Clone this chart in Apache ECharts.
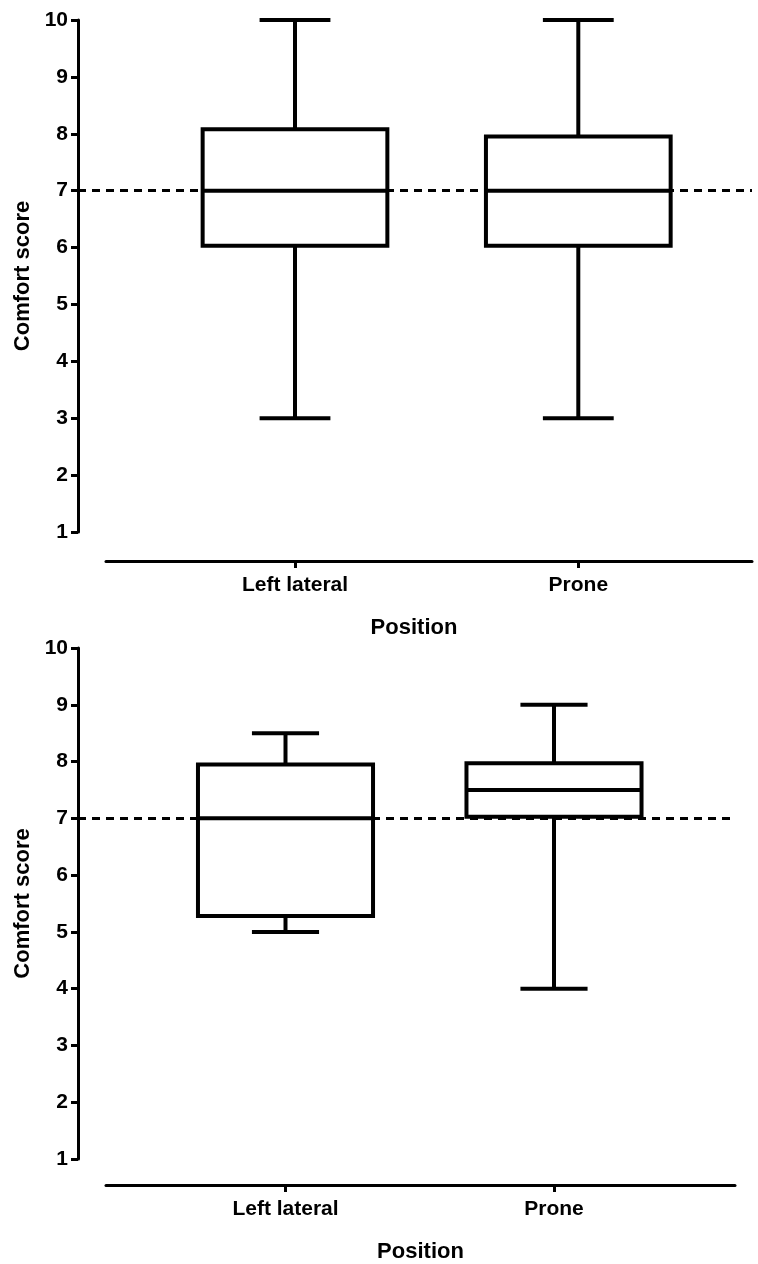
<!DOCTYPE html>
<html>
<head>
<meta charset="utf-8">
<title>Comfort score by position</title>
<script src="https://cdn.jsdelivr.net/npm/echarts@6/dist/echarts.min.js"></script>
<style>
	html, body { margin: 0; padding: 0; background: #fff; }
	#chart { width: 758px; height: 1264px; }
</style>
</head>
<body>
<div id="chart"></div>
<script>
	// categories (x = 1, 2 on the numeric base axis)
	var positions = ['Left lateral', 'Prone'];
	var posIndex = [1, 2];

	// top panel box values
	var topMin = [3, 3];
	var topQ1 = [6.03, 6.03];
	var topMedian = [7, 7];
	var topQ3 = [8.08, 7.95];
	var topMax = [10, 10];

	// bottom panel box values
	var botMin = [5, 4];
	var botQ1 = [5.28, 7.03];
	var botMedian = [7, 7.5];
	var botQ3 = [7.95, 7.97];
	var botMax = [8.5, 9];

	var refScore = 7; // dashed line

	var font = 'Liberation Sans, Arial, sans-serif';

	function boxRows(mins, q1s, meds, q3s, maxs) {
		return posIndex.map(function (x, i) {
			return [x, mins[i], q1s[i], meds[i], q3s[i], maxs[i]];
		});
	}

	function renderBox(params, api) {
		var x = api.value(0);
		var pMin = api.coord([x, api.value(1)]);
		var pQ1 = api.coord([x, api.value(2)]);
		var pMed = api.coord([x, api.value(3)]);
		var pQ3 = api.coord([x, api.value(4)]);
		var pMax = api.coord([x, api.value(5)]);
		var unit = api.size([1, 0])[0];
		var half = unit * 0.326; // box half width
		var cap = unit * 0.125;  // whisker cap half width
		var st = { stroke: '#000', lineWidth: 4, fill: 'none' };
		var cx = pMed[0];
		return {
			type: 'group',
			children: [
				{ type: 'line', shape: { x1: cx, y1: pMin[1], x2: cx, y2: pQ1[1] }, style: st },
				{ type: 'line', shape: { x1: cx, y1: pQ3[1], x2: cx, y2: pMax[1] }, style: st },
				{ type: 'line', shape: { x1: cx - cap, y1: pMin[1], x2: cx + cap, y2: pMin[1] }, style: st },
				{ type: 'line', shape: { x1: cx - cap, y1: pMax[1], x2: cx + cap, y2: pMax[1] }, style: st },
				{ type: 'rect', shape: { x: cx - half, y: pQ3[1], width: half * 2, height: pQ1[1] - pQ3[1] }, style: st },
				{ type: 'line', shape: { x1: cx - half, y1: pMed[1], x2: cx + half, y2: pMed[1] }, style: st }
			]
		};
	}

	// pixel layout for each panel: y axis at axisX, x axis line from lineLeft to lineRight
	function panel(idx, cfg) {
		var unit = (cfg.c2 - cfg.c1);
		var plotMin = 1 - (cfg.c1 - cfg.axisX) / unit;
		var lineMin = 1 - (cfg.c1 - cfg.lineLeft) / unit;
		var xMax = 2 + (cfg.lineRight - cfg.c2) / unit;
		var g = idx * 2;
		return {
			grids: [
				{ left: cfg.axisX, top: cfg.top, width: cfg.lineRight - cfg.axisX, height: cfg.bottom1 - cfg.top },
				{ left: cfg.lineLeft, top: cfg.top, width: cfg.lineRight - cfg.lineLeft, height: cfg.xLineY - cfg.top }
			],
			xAxes: [
				{ gridIndex: g, type: 'value', min: plotMin, max: xMax, show: false },
				{
					gridIndex: g + 1, type: 'value', min: lineMin, max: xMax,
					axisLine: { show: true, lineStyle: { color: '#000', width: 3 } },
					axisTick: { show: true, customValues: posIndex, length: 7, lineStyle: { color: '#000', width: 3 } },
					axisLabel: {
						customValues: posIndex, margin: 14, color: '#000', fontFamily: font,
						fontWeight: 'bold', fontSize: 21,
						formatter: function (v) { return positions[v - 1]; }
					},
					splitLine: { show: false },
					name: 'Position', nameLocation: 'middle', nameGap: 56,
					nameTextStyle: { color: '#000', fontFamily: font, fontWeight: 'bold', fontSize: 22, padding: [0, cfg.namePad, 0, 0] }
				}
			],
			yAxes: [
				{
					gridIndex: g, type: 'value', min: 1, max: 10, interval: 1,
					axisLine: { show: true, lineStyle: { color: '#000', width: 3 } },
					axisTick: { show: true, length: 7, lineStyle: { color: '#000', width: 3 } },
					axisLabel: { margin: 10, color: '#000', fontFamily: font, fontWeight: 'bold', fontSize: 21 },
					splitLine: { show: false },
					name: 'Comfort score', nameLocation: 'middle', nameGap: 42, nameRotate: 90,
					nameTextStyle: { color: '#000', fontFamily: font, fontWeight: 'bold', fontSize: 22 }
				},
				{ gridIndex: g + 1, type: 'value', show: false, min: 0, max: 1 }
			],
			series: {
				type: 'custom',
				xAxisIndex: g,
				yAxisIndex: g,
				renderItem: renderBox,
				data: cfg.rows,
				z: 3,
				markLine: {
					silent: true,
					symbol: ['none', 'none'],
					label: { show: false },
					lineStyle: { color: '#000', width: 3, type: [8, 6] },
					data: [{ yAxis: refScore }]
				}
			}
		};
	}

	var p1 = panel(0, {
		axisX: 78, lineLeft: 106, lineRight: 752, c1: 295, c2: 578.3,
		top: 20, bottom1: 532, xLineY: 561, namePad: 30,
		rows: boxRows(topMin, topQ1, topMedian, topQ3, topMax)
	});
	var p2 = panel(1, {
		axisX: 78, lineLeft: 106, lineRight: 735, c1: 285.5, c2: 554,
		top: 648, bottom1: 1159, xLineY: 1188, namePad: 0,
		rows: boxRows(botMin, botQ1, botMedian, botQ3, botMax)
	});

	var chart = echarts.init(document.getElementById('chart'), null, { renderer: 'canvas' });
	chart.setOption({
		animation: false,
		backgroundColor: '#fff',
		grid: p1.grids.concat(p2.grids),
		xAxis: p1.xAxes.concat(p2.xAxes),
		yAxis: p1.yAxes.concat(p2.yAxes),
		series: [p1.series, p2.series]
	});
</script>
</body>
</html>
